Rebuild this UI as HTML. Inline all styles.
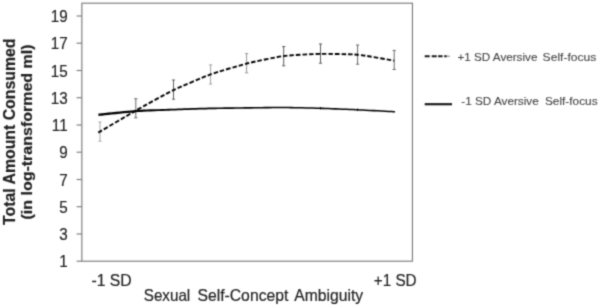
<!DOCTYPE html>
<html>
<head>
<meta charset="utf-8">
<title>Chart</title>
<style>
html,body{margin:0;padding:0;background:#fff;}
body{width:600px;height:307px;overflow:hidden;font-family:"Liberation Sans",sans-serif;}
svg{display:block;}
svg text{font-family:"Liberation Sans",sans-serif;fill:#222;}
</style>
</head>
<body>
<svg width="600" height="307" viewBox="0 0 600 307">
<rect x="0" y="0" width="600" height="307" fill="#fff"/>
<g filter="url(#soft)">
<!-- plot frame -->
<rect x="81.85" y="3.2" width="330.6" height="258.0" fill="none" stroke="#7c7c7c" stroke-width="1.15"/>
<g stroke="#7c7c7c" stroke-width="1.15">
<line x1="76.6" y1="261.2" x2="81.85" y2="261.2"/>
<line x1="76.6" y1="234.0" x2="81.85" y2="234.0"/>
<line x1="76.6" y1="206.7" x2="81.85" y2="206.7"/>
<line x1="76.6" y1="179.5" x2="81.85" y2="179.5"/>
<line x1="76.6" y1="152.2" x2="81.85" y2="152.2"/>
<line x1="76.6" y1="125.0" x2="81.85" y2="125.0"/>
<line x1="76.6" y1="97.7" x2="81.85" y2="97.7"/>
<line x1="76.6" y1="70.5" x2="81.85" y2="70.5"/>
<line x1="76.6" y1="43.2" x2="81.85" y2="43.2"/>
<line x1="76.6" y1="16.0" x2="81.85" y2="16.0"/>
</g>
<!-- y tick labels -->
<g font-size="16.7" stroke="#222" stroke-width="0.2">
<text transform="translate(67.6,267.3) scale(0.91,1)" text-anchor="end">1</text>
<text transform="translate(67.6,240.1) scale(0.91,1)" text-anchor="end">3</text>
<text transform="translate(67.6,212.8) scale(0.91,1)" text-anchor="end">5</text>
<text transform="translate(67.6,185.6) scale(0.91,1)" text-anchor="end">7</text>
<text transform="translate(67.6,158.3) scale(0.91,1)" text-anchor="end">9</text>
<text transform="translate(67.6,131.1) scale(0.91,1)" text-anchor="end">11</text>
<text transform="translate(67.6,103.8) scale(0.91,1)" text-anchor="end">13</text>
<text transform="translate(67.6,76.6) scale(0.91,1)" text-anchor="end">15</text>
<text transform="translate(67.6,49.3) scale(0.91,1)" text-anchor="end">17</text>
<text transform="translate(67.6,22.1) scale(0.91,1)" text-anchor="end">19</text>
</g>
<!-- error bars -->
<g stroke="#777" stroke-width="1" fill="none">
<path stroke="#a8a8a8" d="M100.0,122.0V141.2M98.4,122.0h3.2M98.4,141.2h3.2"/>
<path stroke="#6a6a6a" d="M135.8,98.7V117.8M134.2,98.7h3.2M134.2,117.8h3.2"/>
<path stroke="#606060" d="M173.5,80.0V99.2M171.9,80.0h3.2M171.9,99.2h3.2"/>
<path stroke="#a0a0a0" d="M210.6,64.9V84.0M209.0,64.9h3.2M209.0,84.0h3.2"/>
<path stroke="#989898" d="M246.6,53.6V72.8M245.0,53.6h3.2M245.0,72.8h3.2"/>
<path stroke="#5c5c5c" d="M283.7,46.6V65.8M282.1,46.6h3.2M282.1,65.8h3.2"/>
<path stroke="#5c5c5c" d="M320.5,44.0V63.2M318.9,44.0h3.2M318.9,63.2h3.2"/>
<path stroke="#6a6a6a" d="M357.6,45.0V64.2M356.0,45.0h3.2M356.0,64.2h3.2"/>
<path stroke="#6a6a6a" d="M394.2,50.4V69.5M392.6,50.4h3.2M392.6,69.5h3.2"/>
</g>
<g stroke="#222" stroke-width="1" fill="none">
<path d="M320.5,107.0v2.6"/>
<path d="M357.6,108.5v2.6"/>
</g>
<!-- curves -->
<path d="M98.4,113.60 L99.7,113.47 L101.9,113.25 L104.7,112.96 L108.1,112.62 L111.8,112.24 L115.8,111.84 L119.9,111.44 L123.8,111.06 L127.6,110.70 L130.9,110.39 L133.7,110.15 L135.8,109.99 L137.8,109.87 L140.5,109.74 L143.6,109.62 L147.1,109.50 L150.8,109.37 L154.7,109.25 L158.5,109.13 L162.2,109.02 L165.7,108.92 L168.8,108.83 L171.5,108.75 L173.5,108.69 L175.5,108.63 L178.1,108.54 L181.2,108.44 L184.7,108.33 L188.3,108.21 L192.1,108.09 L195.9,107.97 L199.5,107.86 L203.0,107.76 L206.0,107.67 L208.6,107.60 L210.6,107.55 L212.6,107.51 L215.1,107.47 L218.1,107.43 L221.4,107.38 L224.9,107.34 L228.6,107.29 L232.3,107.25 L235.8,107.21 L239.1,107.18 L242.1,107.14 L244.6,107.12 L246.6,107.10 L248.6,107.07 L251.2,107.04 L254.3,107.00 L257.7,106.95 L261.3,106.91 L265.1,106.86 L268.9,106.82 L272.6,106.78 L276.0,106.74 L279.1,106.72 L281.7,106.71 L283.7,106.71 L285.7,106.73 L288.3,106.77 L291.3,106.82 L294.7,106.89 L298.4,106.97 L302.1,107.05 L305.8,107.14 L309.5,107.23 L312.9,107.31 L315.9,107.39 L318.5,107.46 L320.5,107.52 L322.5,107.59 L325.1,107.69 L328.2,107.80 L331.6,107.94 L335.3,108.08 L339.0,108.24 L342.8,108.39 L346.5,108.55 L349.9,108.69 L353.0,108.83 L355.6,108.94 L357.6,109.04 L359.7,109.14 L362.5,109.28 L365.8,109.46 L369.6,109.66 L373.5,109.87 L377.6,110.09 L381.5,110.31 L385.3,110.52 L388.7,110.70 L391.5,110.86 L393.7,110.98 L395.0,111.05 L395.0,112.55 L393.7,112.48 L391.5,112.36 L388.7,112.21 L385.3,112.03 L381.5,111.82 L377.6,111.61 L373.5,111.39 L369.6,111.18 L365.8,110.98 L362.5,110.81 L359.7,110.67 L357.6,110.56 L355.6,110.47 L353.0,110.36 L349.9,110.23 L346.5,110.08 L342.8,109.93 L339.0,109.78 L335.3,109.63 L331.6,109.48 L328.2,109.35 L325.1,109.24 L322.5,109.14 L320.5,109.08 L318.5,109.02 L315.9,108.95 L312.9,108.87 L309.5,108.79 L305.8,108.70 L302.1,108.62 L298.4,108.54 L294.7,108.46 L291.3,108.40 L288.3,108.34 L285.7,108.31 L283.7,108.29 L281.7,108.29 L279.1,108.30 L276.0,108.33 L272.6,108.36 L268.9,108.40 L265.1,108.45 L261.3,108.50 L257.7,108.55 L254.3,108.60 L251.2,108.64 L248.6,108.68 L246.6,108.70 L244.6,108.73 L242.1,108.77 L239.1,108.81 L235.8,108.85 L232.3,108.90 L228.6,108.95 L224.9,109.00 L221.4,109.06 L218.1,109.11 L215.1,109.16 L212.6,109.21 L210.6,109.25 L208.6,109.31 L206.0,109.38 L203.0,109.48 L199.5,109.59 L195.9,109.71 L192.1,109.84 L188.3,109.97 L184.7,110.10 L181.2,110.22 L178.1,110.33 L175.5,110.43 L173.5,110.51 L171.5,110.59 L168.8,110.70 L165.7,110.82 L162.2,110.97 L158.5,111.12 L154.7,111.28 L150.8,111.45 L147.1,111.61 L143.6,111.78 L140.5,111.94 L137.8,112.08 L135.8,112.21 L133.7,112.38 L130.9,112.64 L127.6,112.96 L123.8,113.33 L119.9,113.74 L115.8,114.16 L111.8,114.58 L108.1,114.97 L104.7,115.33 L101.9,115.63 L99.7,115.86 L98.4,116.00Z" fill="#000" stroke="none"/>
<path d="M98.3,132.6 C101.7,130.6 129.0,114.5 135.8,110.6 C142.6,106.7 166.7,93.4 173.5,90.1 C180.3,86.8 204.0,76.8 210.6,74.4 C217.2,72.0 240.0,65.3 246.6,63.6 C253.2,61.9 277.0,56.9 283.7,56.0 C290.4,55.1 313.8,54.0 320.5,53.9 C327.2,53.8 350.9,54.1 357.6,54.7 C364.3,55.3 390.9,60.1 394.2,60.6" fill="none" stroke="#000" stroke-width="1.9" stroke-dasharray="4.5 2"/>
<!-- x axis labels -->
<g font-size="16.5" stroke="#222" stroke-width="0.2">
<text x="91.4" y="286.4" textLength="40.2" lengthAdjust="spacingAndGlyphs">-1 SD</text>
<text x="373.8" y="286.4" textLength="42.8" lengthAdjust="spacingAndGlyphs">+1 SD</text>
<text y="301.3"><tspan x="143.8" textLength="46.4" lengthAdjust="spacingAndGlyphs">Sexual</tspan> <tspan x="197.4" textLength="91" lengthAdjust="spacingAndGlyphs">Self-Concept</tspan> <tspan x="294.3" textLength="68.8" lengthAdjust="spacingAndGlyphs">Ambiguity</tspan></text>
</g>
<!-- y axis title -->
<g font-weight="bold" text-anchor="middle" stroke="#222" stroke-width="0.2">
<text font-size="16" transform="translate(14.6,131.75) rotate(-90)" textLength="186.5" lengthAdjust="spacingAndGlyphs">Total Amount Consumed</text>
<text font-size="16" transform="translate(31.6,132.0) rotate(-90) scale(1,0.89)" textLength="175" lengthAdjust="spacingAndGlyphs">(in log-transformed ml)</text>
</g>
<!-- legend -->
<line x1="424.7" y1="56.3" x2="451" y2="56.3" stroke="#1a1a1a" stroke-width="2" stroke-dasharray="5 2 5 1.4 4.5 1.6 2.6 100"/>
<line x1="446.8" y1="56.3" x2="450" y2="56.3" stroke="#b0b0b0" stroke-width="1.6"/>
<line x1="424.7" y1="104.2" x2="452" y2="104.2" stroke="#1a1a1a" stroke-width="2.2"/>
<g font-size="11.2" stroke="#444" stroke-width="0.1">
<text y="60.5" style="fill:#444"><tspan x="457.4" textLength="80" lengthAdjust="spacingAndGlyphs">+1 SD Aversive</tspan> <tspan x="542.6" textLength="53.8" lengthAdjust="spacingAndGlyphs">Self-focus</tspan></text>
<text y="105.3" style="fill:#444"><tspan x="461.3" textLength="77.4" lengthAdjust="spacingAndGlyphs">-1 SD Aversive</tspan> <tspan x="544.9" textLength="52.7" lengthAdjust="spacingAndGlyphs">Self-focus</tspan></text>
</g>
</g>
<defs>
<filter id="soft" x="0" y="0" width="600" height="307" filterUnits="userSpaceOnUse" color-interpolation-filters="sRGB"><feConvolveMatrix order="3" kernelMatrix="0.0311 0.1141 0.0311 0.1141 0.4191 0.1141 0.0311 0.1141 0.0311" edgeMode="duplicate" preserveAlpha="false"/></filter>
</defs>
</svg>
</body>
</html>
